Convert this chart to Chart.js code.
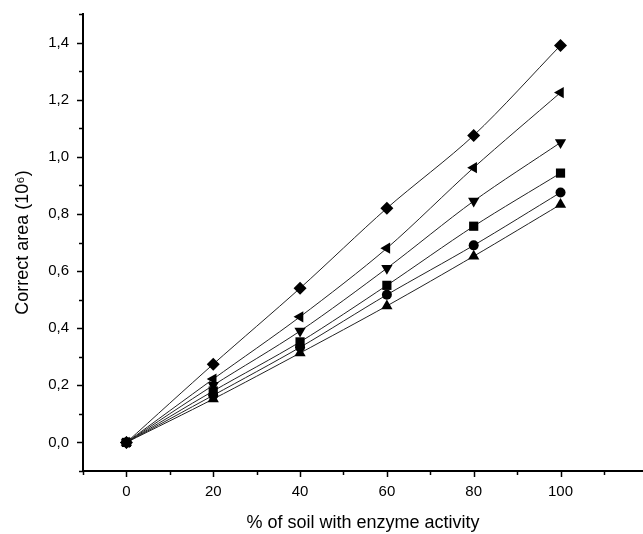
<!DOCTYPE html>
<html>
<head>
<meta charset="utf-8">
<script src="https://cdn.jsdelivr.net/npm/chart.js@4/dist/chart.umd.min.js"></script>
<style>
  html, body { margin: 0; padding: 0; background: #fff; }
  #wrap { width: 643px; height: 534px; }
</style>
</head>
<body>
<div id="wrap"><canvas id="chart" width="643" height="534"></canvas></div>
<script>
// % de solo com atividade enzimatica
var soilPct = [0, 20, 40, 60, 80, 100];

// area corrigida (10^6) para cada serie
var diamondArea  = [0, 0.274, 0.54, 0.82, 1.075, 1.39];
var leftTriArea  = [0, 0.222, 0.44, 0.68, 0.962, 1.225];
var downTriArea  = [0, 0.200, 0.39, 0.61, 0.845, 1.05];
var squareArea   = [0, 0.180, 0.352, 0.55, 0.757, 0.943];
var circleArea   = [0, 0.165, 0.333, 0.517, 0.69, 0.875];
var upTriArea    = [0, 0.152, 0.313, 0.478, 0.652, 0.833];

function toPoints(values){
  var pts = [];
  for (var i = 0; i < soilPct.length; i++) {
    pts.push({x: soilPct[i], y: values[i]});
  }
  return pts;
}

function serie(values, style, rotation, radius){
  return {
    data: toPoints(values),
    showLine: true,
    borderColor: '#222',
    borderWidth: 1,
    backgroundColor: '#000',
    pointBackgroundColor: '#000',
    pointBorderColor: '#000',
    pointBorderWidth: 0,
    pointStyle: style,
    pointRotation: rotation,
    pointRadius: radius,
    tension: 0.3,
    fill: false
  };
}

// desenha os ticks maiores e menores dos eixos
var tickMarks = {
  id: 'tickMarks',
  afterDraw: function(chart){
    var ctx = chart.ctx;
    var area = chart.chartArea;
    ctx.save();
    ctx.strokeStyle = '#000';
    ctx.lineWidth = 1.5;
    var xs = chart.scales.x;
    xs.ticks.forEach(function(t, i){
      var px = Math.round(xs.getPixelForTick(i)) + 0.5;
      var len = isMajorX(t.value) ? 6 : 4;
      ctx.beginPath();
      ctx.moveTo(px, area.bottom);
      ctx.lineTo(px, area.bottom + len);
      ctx.stroke();
    });
    var ys = chart.scales.y;
    ys.ticks.forEach(function(t, i){
      var py = Math.round(ys.getPixelForTick(i)) + 0.5;
      var len = isMajorY(t.value) ? 6 : 4;
      ctx.beginPath();
      ctx.moveTo(area.left, py);
      ctx.lineTo(area.left - len, py);
      ctx.stroke();
    });
    ctx.restore();
  }
};

function isMajorX(v){ return v >= 0 && v <= 100 && Math.round(v) % 20 === 0; }
function isMajorY(v){ var k = Math.round(v * 10); return k >= 0 && k <= 14 && k % 2 === 0; }

new Chart(document.getElementById('chart'), {
  type: 'scatter',
  data: {
    datasets: [
      serie(diamondArea, 'rectRot', 0, 6.5),
      serie(leftTriArea, 'triangle', 270, 6.5),
      serie(downTriArea, 'triangle', 180, 6.5),
      serie(squareArea, 'rect', 0, 6.5),
      serie(circleArea, 'circle', 0, 5),
      serie(upTriArea, 'triangle', 0, 6.5)
    ]
  },
  plugins: [tickMarks],
  options: {
    responsive: false,
    animation: false,
    layout: { autoPadding: false, padding: { top: 14, right: 0, left: 0, bottom: 0 } },
    plugins: { legend: { display: false }, tooltip: { enabled: false } },
    scales: {
      x: {
        type: 'linear',
        min: -10,
        max: 119,
        afterFit: function(s){ s.height = 63; s.paddingRight = 0; s.paddingLeft = 0; },
        afterBuildTicks: function(s){
          var t = [];
          for (var v = -10; v <= 110; v += 10) t.push({value: v});
          s.ticks = t;
        },
        ticks: {
          color: '#000',
          font: { family: 'Liberation Sans, Arial, sans-serif', size: 15 },
          padding: 12,
          maxRotation: 0,
          autoSkip: false,
          callback: function(v){ return isMajorX(v) ? String(v) : ''; }
        },
        grid: { display: false, drawTicks: false },
        border: { display: true, color: '#000', width: 2 },
        title: {
          display: true,
          text: '% of soil with enzyme activity',
          color: '#000',
          font: { family: 'Liberation Sans, Arial, sans-serif', size: 18 },
          padding: { top: 0, bottom: 0 }
        }
      },
      y: {
        type: 'linear',
        min: -0.1,
        max: 1.5,
        afterFit: function(s){ s.width = 83; s.paddingTop = 0; s.paddingBottom = 0; },
        afterBuildTicks: function(s){
          var t = [];
          for (var k = -1; k <= 15; k++) t.push({value: k / 10});
          s.ticks = t;
        },
        ticks: {
          color: '#000',
          font: { family: 'Liberation Sans, Arial, sans-serif', size: 15 },
          padding: 14,
          autoSkip: false,
          callback: function(v){ return isMajorY(v) ? v.toFixed(1).replace('.', ',') : ''; }
        },
        grid: { display: false, drawTicks: false },
        border: { display: true, color: '#000', width: 2 },
        title: {
          display: true,
          text: 'Correct area (10⁶)',
          color: '#000',
          font: { family: 'Liberation Sans, Arial, sans-serif', size: 18 },
          padding: { top: 12, bottom: 0 }
        }
      }
    }
  }
});
</script>
</body>
</html>
